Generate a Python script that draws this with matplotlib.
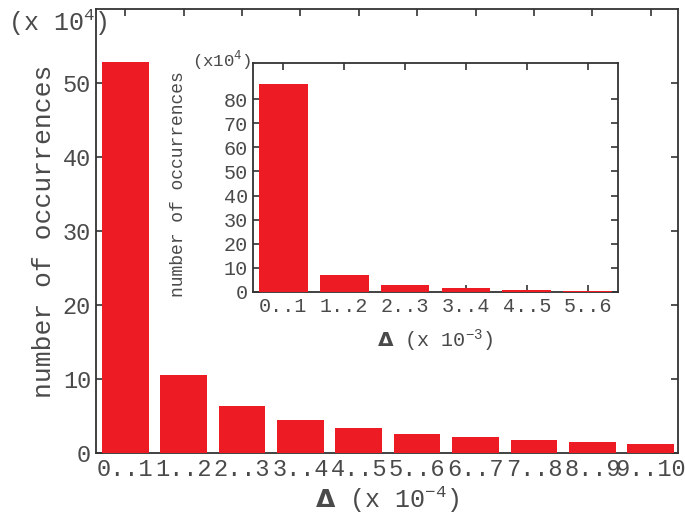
import numpy as np
import matplotlib
matplotlib.use('Agg')
import matplotlib.pyplot as plt

plt.rcParams['font.family'] = ['Liberation Mono', 'DejaVu Sans Mono']
plt.rcParams['mathtext.fontset'] = 'custom'
plt.rcParams['mathtext.rm'] = 'Liberation Mono'
plt.rcParams['mathtext.bf'] = 'DejaVu Sans:bold'

# main histogram, Delta bins in units of 1e-4, counts in units of 1e4
main_labels = ['0..1', '1..2', '2..3', '3..4', '4..5', '5..6', '6..7', '7..8', '8..9', '9..10']
main_counts = [52.8, 10.45, 6.27, 4.41, 3.32, 2.59, 2.1, 1.73, 1.5, 1.23]
main_yticks = [0, 10, 20, 30, 40, 50]

# inset histogram, Delta bins in units of 1e-3
inset_labels = ['0..1', '1..2', '2..3', '3..4', '4..5', '5..6']
inset_counts = [86.4, 6.9, 2.8, 1.5, 1.0, 0.55]
inset_yticks = [0, 10, 20, 30, 40, 50, 60, 70, 80]

red = '#ed1c24'
spine_col = '#333333'
text_col = '#4a4a4a'

fig = plt.figure(figsize=(6.85, 5.19), dpi=100)

def style(ax, fs):
    for s in ax.spines.values():
        s.set_color(spine_col)
        s.set_linewidth(1.3)
    ax.tick_params(direction='in', top=True, right=True, colors=spine_col,
                   labelcolor=text_col, labelsize=fs, length=5, width=1.2)

ax = fig.add_axes([0.1401, 0.1277, 0.849, 0.855])
x = np.arange(len(main_labels))
ax.bar(x, main_counts, width=0.8, color=red, zorder=3)
ax.set_xlim(-0.5, 9.46)
ax.set_ylim(0, 60)
ax.set_xticks(x)
ax.set_xticklabels(main_labels)
ax.set_yticks(main_yticks)
style(ax, 17)
ax.tick_params(axis='x', pad=4)
ax.set_ylabel('number of occurrences', fontsize=19, color=text_col, labelpad=5)
ax.set_xlabel(r'$\mathbf{\Delta}$ (x 10$^{-4}$)', fontsize=18, color=text_col, labelpad=2)
fig.text(0.012, 0.94, r'(x 10$^{4}$)', fontsize=18, color=text_col)

ins = fig.add_axes([0.3693, 0.4374, 0.533, 0.4412])
xi = np.arange(len(inset_labels))
ins.bar(xi, inset_counts, width=0.8, color=red, zorder=3)
ins.set_xlim(-0.5, 5.5)
ins.set_ylim(0, 95)
ins.set_xticks(xi)
ins.set_xticklabels(inset_labels)
ins.set_yticks(inset_yticks)
style(ins, 14.5)
ins.set_ylabel('number of occurrences', fontsize=13, color=text_col)
ins.yaxis.set_label_coords(-0.18, 0.47)
ins.set_xlabel(r'$\mathbf{\Delta}$ (x 10$^{-3}$)', fontsize=14.5, color=text_col, labelpad=8)
fig.text(0.281, 0.872, r'(x10$^{4}$)', fontsize=12.5, color=text_col)

fig.savefig('out.png', dpi=100)
